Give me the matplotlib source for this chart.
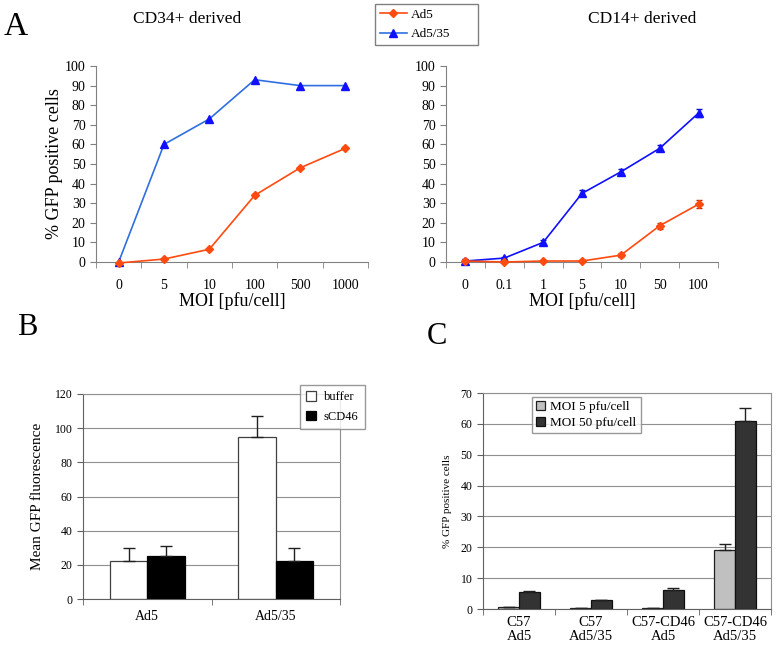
import matplotlib
matplotlib.use("Agg")
import matplotlib.pyplot as plt
import numpy as np

plt.rcParams['font.family'] = ['Liberation Serif', 'DejaVu Serif']

# panel A data
moi_cd34 = ['0', '5', '10', '100', '500', '1000']
ad5_cd34 = [-0.5, 1.5, 6.5, 34, 48, 58]
ad535_cd34 = [0, 60, 73, 93, 90, 90]

moi_cd14 = ['0', '0.1', '1', '5', '10', '50', '100']
ad5_cd14 = [0.5, 0, 0.5, 0.5, 3.5, 18.5, 29.5]
ad5_cd14_err = [0.8, 0.5, 0.6, 0.6, 1.0, 1.5, 2.0]
ad535_cd14 = [0.5, 2, 10, 35, 46, 58, 76]
ad535_cd14_err = [0.8, 0.8, 1.2, 1.5, 1.2, 1.5, 2.0]

# panel B data
groups_b = ['Ad5', 'Ad5/35']
buffer_vals = [22, 95]
buffer_err = [8, 12]
scd46_vals = [25, 22]
scd46_err = [6, 8]

# panel C data
groups_c = ['C57\nAd5', 'C57\nAd5/35', 'C57-CD46\nAd5', 'C57-CD46\nAd5/35']
moi5_vals = [0.5, 0.2, 0.2, 19]
moi5_err = [0.1, 0.0, 0.0, 2]
moi50_vals = [5.5, 2.8, 6.0, 61]
moi50_err = [0.3, 0.2, 0.8, 4]

W, H = 776, 647
fig = plt.figure(figsize=(W / 100, H / 100), dpi=100)


def box(x0, y0, x1, y1):
    return [x0 / W, 1 - y1 / H, (x1 - x0) / W, (y1 - y0) / H]


orange = '#ff4a10'
blue_l = '#2f6fe0'
blue = '#1010ff'


def line_panel(ax, cats, ya, yb, ea=None, eb=None, bcol=blue_l):
    x = np.arange(len(cats))
    ax.plot(x, yb, color=bcol, lw=1.2, marker='^', ms=6, mfc=blue, mec=blue,
            clip_on=False, label='Ad5/35', zorder=3)
    ax.plot(x, ya, color=orange, lw=1.2, marker='D', ms=4.5, mfc=orange, mec=orange,
            clip_on=False, label='Ad5', zorder=3)
    if ea is not None:
        ax.errorbar(x, ya, yerr=ea, fmt='none', ecolor='#b03010', lw=1, capsize=2, zorder=2)
        ax.errorbar(x, yb, yerr=eb, fmt='none', ecolor='#0010c0', lw=1, capsize=2, zorder=2)
    ax.set_xlim(-0.5, len(cats) - 0.5)
    ax.set_ylim(0, 100)
    ax.set_yticks(range(0, 101, 10))
    ax.set_xticks(x)
    ax.set_xticklabels(cats)
    ax.set_xticks(np.arange(len(cats) + 1) - 0.5, minor=True)
    ax.tick_params(axis='x', which='major', length=0, labelsize=10, pad=12)
    ax.tick_params(axis='x', which='minor', length=4, direction='out', color='#808080')
    ax.tick_params(axis='y', length=4, direction='out', labelsize=10, color='#808080')
    for s in ['top', 'right']:
        ax.spines[s].set_visible(False)
    for s in ['left', 'bottom']:
        ax.spines[s].set_color('#808080')
        ax.spines[s].set_linewidth(0.8)
    ax.set_xlabel('MOI [pfu/cell]', fontsize=13, labelpad=0)


ax1 = fig.add_axes(box(96, 66, 368, 262))
line_panel(ax1, moi_cd34, ad5_cd34, ad535_cd34)
ax1.set_ylabel('% GFP positive cells', fontsize=13, labelpad=1)

ax2 = fig.add_axes(box(446, 66, 718, 262))
line_panel(ax2, moi_cd14, ad5_cd14, ad535_cd14, ad5_cd14_err, ad535_cd14_err, bcol=blue)

fig.text(187 / W, 1 - 19 / H, 'CD34+ derived', fontsize=12.5, ha='center', va='center')
fig.text(642 / W, 1 - 19 / H, 'CD14+ derived', fontsize=12.5, ha='center', va='center')

h, l = ax1.get_legend_handles_labels()
fig.legend(h[::-1], l[::-1], loc='upper left', mode='expand',
           bbox_to_anchor=(375 / W, 1 - 49 / H, 103 / W, 45 / H),
           fontsize=9.5, frameon=True, fancybox=False, edgecolor='#606060',
           handlelength=2.1, handletextpad=0.3, borderpad=0.35, labelspacing=0.55,
           borderaxespad=0)

fig.text(4 / W, 1 - 27 / H, 'A', fontsize=24, va='center')
fig.text(27 / W, 1 - 327 / H, 'B', fontsize=22, va='center', ha='center')
fig.text(437 / W, 1 - 336 / H, 'C', fontsize=22, va='center', ha='center')


def bar_frame(ax, ymax, step):
    ax.set_ylim(0, ymax)
    ax.set_yticks(np.arange(0, ymax + 1, step))
    ax.yaxis.grid(True, color='#909090', lw=0.8)
    ax.set_axisbelow(True)
    for s in ax.spines.values():
        s.set_color('#909090')
        s.set_linewidth(0.8)
    ax.spines['left'].set_color('#606060')
    ax.spines['bottom'].set_color('#606060')
    ax.tick_params(axis='y', length=4, direction='out', labelsize=8.5, color='#606060')


# panel B
ax3 = fig.add_axes(box(83, 394, 340, 599))
xb = np.arange(len(groups_b))
wb = 0.29
ax3.bar(xb - wb / 2, buffer_vals, wb, color='white', edgecolor='#404040', lw=0.9,
        yerr=[np.zeros(2), buffer_err], error_kw=dict(ecolor='#202020', lw=1, capsize=4),
        label='buffer')
ax3.bar(xb + wb / 2, scd46_vals, wb, color='black', edgecolor='black', lw=0.9,
        yerr=[np.zeros(2), scd46_err], error_kw=dict(ecolor='#202020', lw=1, capsize=4),
        label='sCD46')
ax3.set_xlim(-0.5, 1.5)
bar_frame(ax3, 120, 20)
ax3.set_xticks(xb)
ax3.set_xticklabels(groups_b, fontsize=10)
ax3.set_xticks([-0.5, 0.5, 1.5], minor=True)
ax3.tick_params(axis='x', which='major', length=0, pad=8)
ax3.tick_params(axis='x', which='minor', length=4, direction='out', color='#606060')
ax3.set_ylabel('Mean GFP fluorescence', fontsize=11, labelpad=8)
ax3.legend(loc='upper left', bbox_to_anchor=(300 / W, 1 - 385 / H), bbox_transform=fig.transFigure,
           fontsize=9, frameon=True, fancybox=False, edgecolor='#808080', borderaxespad=0,
           handlelength=0.8, handleheight=0.8, borderpad=0.5, labelspacing=0.6, handletextpad=0.6)

# panel C
ax4 = fig.add_axes(box(483, 393, 771, 609))
xc = np.arange(len(groups_c))
wc = 0.285
ax4.bar(xc - wc / 2, moi5_vals, wc, color='#c0c0c0', edgecolor='#202020', lw=0.9,
        yerr=[np.zeros(4), moi5_err], error_kw=dict(ecolor='#202020', lw=1, capsize=4),
        label='MOI 5 pfu/cell')
ax4.bar(xc + wc / 2, moi50_vals, wc, color='#333333', edgecolor='#101010', lw=0.9,
        yerr=[np.zeros(4), moi50_err], error_kw=dict(ecolor='#202020', lw=1, capsize=4),
        label='MOI 50 pfu/cell')
ax4.set_xlim(-0.5, 3.5)
bar_frame(ax4, 70, 10)
ax4.set_xticks(xc)
ax4.set_xticklabels(groups_c, fontsize=10.5, linespacing=1.1)
ax4.set_xticks(np.arange(5) - 0.5, minor=True)
ax4.tick_params(axis='x', which='major', length=0, pad=5)
ax4.tick_params(axis='x', which='minor', length=4, direction='out', color='#606060')
ax4.set_ylabel('% GFP positive cells', fontsize=8, labelpad=6)
ax4.legend(loc='upper left', bbox_to_anchor=(532 / W, 1 - 397 / H), bbox_transform=fig.transFigure,
           fontsize=9.5, frameon=True, fancybox=False, edgecolor='#808080', borderaxespad=0,
           handlelength=0.7, handleheight=0.7, borderpad=0.3, labelspacing=0.3, handletextpad=0.4)

fig.savefig('out.png', dpi=100)
